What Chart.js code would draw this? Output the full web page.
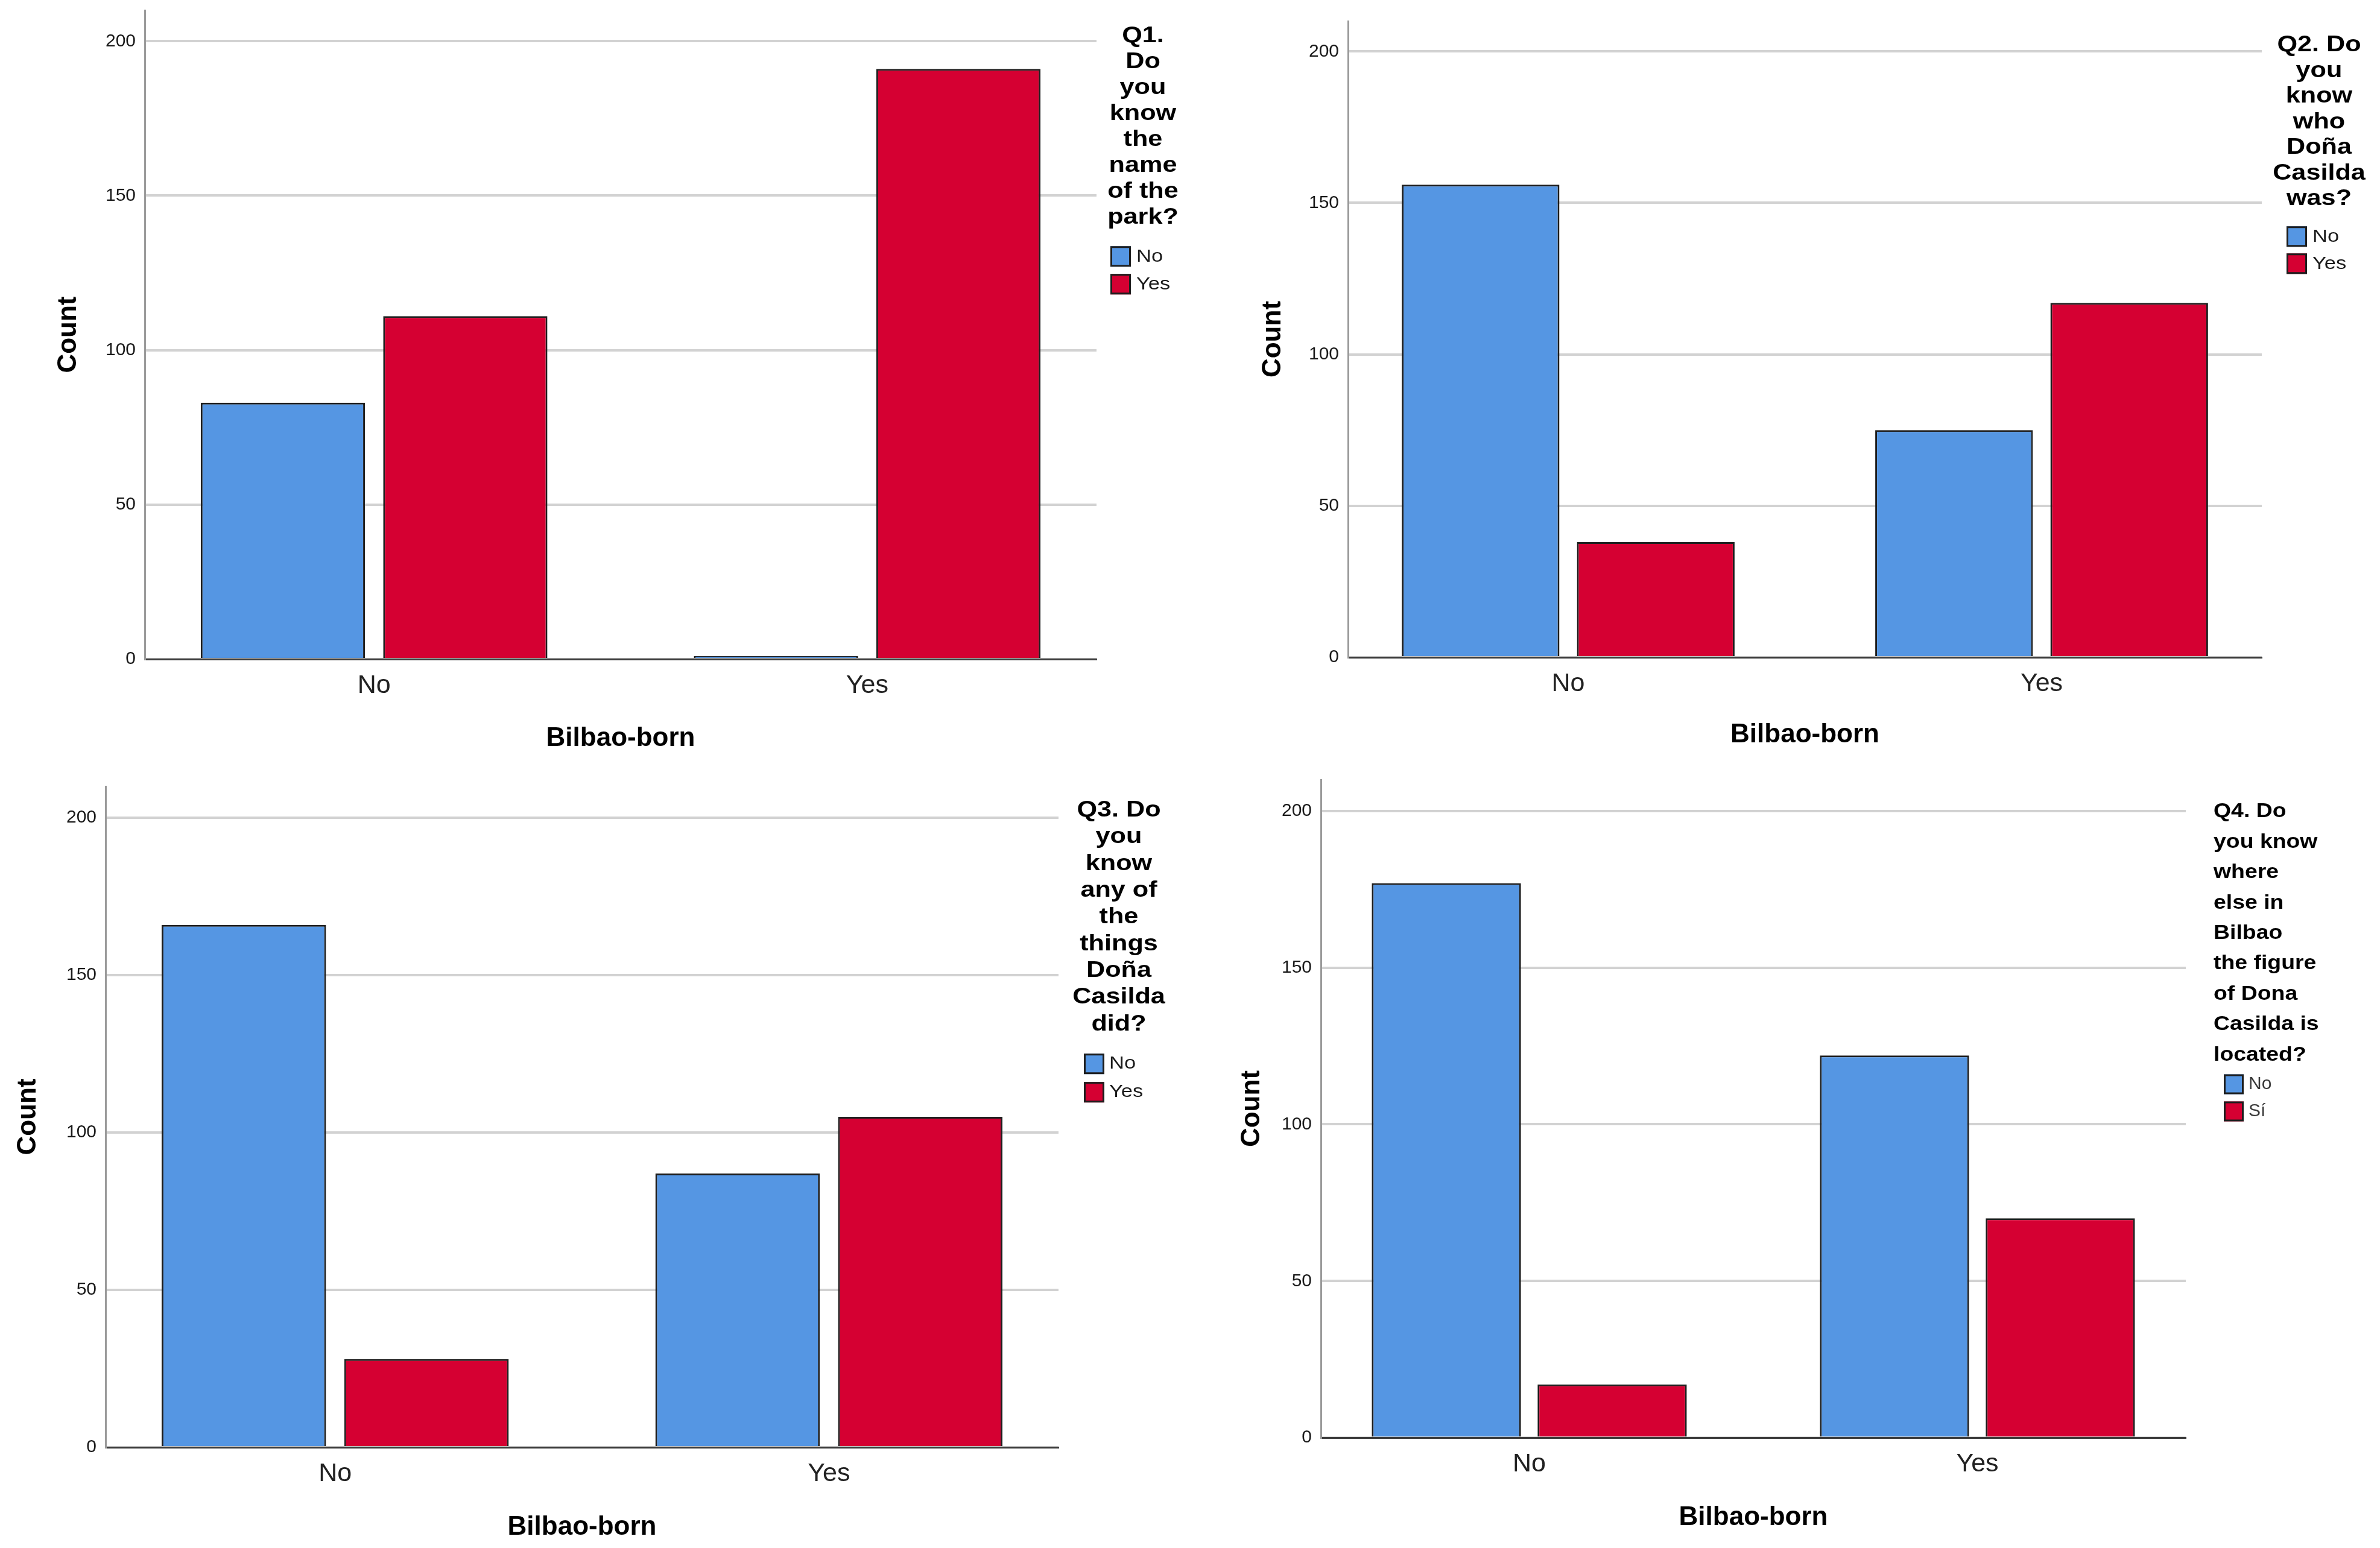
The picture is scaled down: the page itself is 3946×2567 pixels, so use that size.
<!DOCTYPE html>
<html>
<head>
<meta charset="utf-8">
<script src="https://cdn.jsdelivr.net/npm/chart.js@4.4.1/dist/chart.umd.min.js"></script>
<style>
  html, body { margin: 0; padding: 0; background: #ffffff; }
  body { position: relative; width: 3946px; height: 2567px; overflow: hidden; }
  canvas { position: absolute; }
</style>
</head>
<body>
<canvas id="c1"></canvas>
<canvas id="c2"></canvas>
<canvas id="c3"></canvas>
<canvas id="c4"></canvas>
<script>
// ---------------- DATA ----------------
const bilbaoBorn = ['No', 'Yes'];          // x categories
const yTicks = [0, 50, 100, 150, 200];     // y tick labels
const yMax = 210;

const q1Title = ['Q1.', 'Do', 'you', 'know', 'the', 'name', 'of the', 'park?'];
const q1Labels = ['No', 'Yes'];
const q1No  = [83, 1];
const q1Yes = [111, 191];

const q2Title = ['Q2. Do', 'you', 'know', 'who', 'Doña', 'Casilda', 'was?'];
const q2Labels = ['No', 'Yes'];
const q2No  = [156, 75];
const q2Yes = [38, 117];

const q3Title = ['Q3. Do', 'you', 'know', 'any of', 'the', 'things', 'Doña', 'Casilda', 'did?'];
const q3Labels = ['No', 'Yes'];
const q3No  = [166, 87];
const q3Yes = [28, 105];

const q4Title = ['Q4. Do', 'you know', 'where', 'else in', 'Bilbao', 'the figure', 'of Dona', 'Casilda is', 'located?'];
const q4Labels = ['No', 'Sí'];
const q4No = [177, 122];
const q4Si = [17, 70];

// ---------------- STYLE / LAYOUT ----------------
const FONT = '"Liberation Sans", Arial, Helvetica, sans-serif';
const BLUE = '#5596e3';
const RED = '#d50032';
const EDGE = '#1e1e1e';

const panels = [
  { id: 'c1', title: q1Title, labels: q1Labels, a: q1No, b: q1Yes,
    plot: { left: 240, right: 1818, top: 16.75, bottom: 1093 }, qRight: 1973,
    countOff: 126, xTitleOff: 132,
    legend: { align: 'center', x: 1895, y: 60, spacing: 43, size: 36, scaleX: 1.2,
              boxX: 1841, boxSize: 34, itemY: [425, 471], textX: 1884, itemSize: 30, itemScaleX: 1.15, itemColor: '#1a1a1a' } },
  { id: 'c2', title: q2Title, labels: q2Labels, a: q2No, b: q2Yes,
    plot: { left: 2235, right: 3750, top: 34.75, bottom: 1090 }, qRight: 3946,
    countOff: 124, xTitleOff: 129,
    legend: { align: 'center', x: 3845, y: 75, spacing: 42.5, size: 36, scaleX: 1.2,
              boxX: 3791, boxSize: 34, itemY: [392, 437], textX: 3834, itemSize: 30, itemScaleX: 1.15, itemColor: '#1a1a1a' } },
  { id: 'c3', title: q3Title, labels: q3Labels, a: q3No, b: q3Yes,
    plot: { left: 175, right: 1755, top: 1303.8, bottom: 2400 }, qRight: 1973,
    countOff: 128, xTitleOff: 133,
    legend: { align: 'center', x: 1855, y: 1344, spacing: 44.3, size: 36, scaleX: 1.2,
              boxX: 1797, boxSize: 34, itemY: [1764, 1811], textX: 1839, itemSize: 30, itemScaleX: 1.15, itemColor: '#1a1a1a' } },
  { id: 'c4', title: q4Title, labels: q4Labels, a: q4No, b: q4Si,
    plot: { left: 2190, right: 3624, top: 1293, bottom: 2384 }, qRight: 3946,
    countOff: 114, xTitleOff: 133,
    legend: { align: 'left', x: 3670, y: 1346, spacing: 50.4, size: 34, scaleX: 1.1,
              boxX: 3687, boxSize: 33, itemY: [1798, 1843], textX: 3728, itemSize: 30, itemScaleX: 1.0, itemColor: '#3a3a3a' } }
];

const Y_AXIS_W = 200;
const TOP_PAD = 40;
const X_AXIS_H = 180;
const CAT_MARGIN = 0.465;

const sideLegend = {
  id: 'sideLegend',
  afterDraw(chart, args, opts) {
    if (!opts || !opts.lines) return;
    const ctx = chart.ctx;
    const ox = opts.originX, oy = opts.originY;
    ctx.save();
    ctx.textBaseline = 'middle';
    ctx.textAlign = 'left';
    ctx.fillStyle = '#000000';
    ctx.font = 'bold ' + opts.size + 'px ' + FONT;
    opts.lines.forEach((line, i) => {
      const w = ctx.measureText(line).width * opts.scaleX;
      let x = opts.align === 'center' ? opts.x - w / 2 : opts.x;
      const y = opts.y + i * opts.spacing;
      ctx.save();
      ctx.translate(x - ox, y - oy);
      ctx.scale(opts.scaleX, 1);
      ctx.fillText(line, 0, 0);
      ctx.restore();
    });
    ctx.font = opts.itemSize + 'px ' + FONT;
    chart.data.datasets.forEach((ds, i) => {
      const s = opts.boxSize;
      const bx = opts.boxX - ox;
      const cy = opts.itemY[i] - oy;
      ctx.fillStyle = ds.backgroundColor;
      ctx.fillRect(bx, cy - s / 2, s, s);
      ctx.lineWidth = 3;
      ctx.strokeStyle = ds.borderColor;
      ctx.strokeRect(bx + 1.5, cy - s / 2 + 1.5, s - 3, s - 3);
      ctx.fillStyle = opts.itemColor;
      ctx.save();
      ctx.translate(opts.textX - ox, cy);
      ctx.scale(opts.itemScaleX, 1);
      ctx.fillText(ds.label, 0, 0);
      ctx.restore();
    });
    ctx.restore();
  }
};

panels.forEach(p => {
  const x0 = p.plot.left - Y_AXIS_W;
  const y0 = p.plot.top - TOP_PAD;
  const W = Math.round(p.qRight - x0);
  const H = Math.round(p.plot.bottom + X_AXIS_H - y0);
  const canvas = document.getElementById(p.id);
  canvas.width = W;
  canvas.height = H;
  canvas.style.left = x0 + 'px';
  canvas.style.top = y0 + 'px';
  canvas.style.width = W + 'px';
  canvas.style.height = H + 'px';

  const rightPad = W - (p.plot.right - x0);
  const tAxisLH = 44 * 1.2;

  new Chart(canvas, {
    type: 'bar',
    data: {
      datasets: [
        { label: p.labels[0], data: p.a.map((v, i) => ({ x: i, y: v })),
          backgroundColor: BLUE, borderColor: EDGE, borderWidth: 3 },
        { label: p.labels[1], data: p.b.map((v, i) => ({ x: i, y: v })),
          backgroundColor: RED, borderColor: EDGE, borderWidth: 3 }
      ]
    },
    options: {
      responsive: false,
      animation: false,
      devicePixelRatio: 1,
      layout: { padding: { top: TOP_PAD, right: rightPad, left: 0, bottom: 0 } },
      datasets: { bar: { categoryPercentage: 0.74, barPercentage: 0.90 } },
      plugins: {
        legend: { display: false },
        tooltip: { enabled: false },
        sideLegend: Object.assign({ lines: p.title, originX: x0, originY: y0 }, p.legend)
      },
      scales: {
        x: {
          type: 'linear',
          min: -CAT_MARGIN,
          max: 1 + CAT_MARGIN,
          offset: false,
          afterBuildTicks: s => { s.ticks = bilbaoBorn.map((c, i) => ({ value: i })); },
          afterFit: s => { s.height = X_AXIS_H; },
          grid: { display: false, drawTicks: false, offset: false },
          border: { display: true, color: '#3c3c3c', width: 3 },
          ticks: {
            callback: v => bilbaoBorn[v],
            font: { family: FONT, size: 43 },
            color: '#222222',
            padding: 18,
            maxRotation: 0,
            autoSkip: false
          },
          title: {
            display: true,
            text: 'Bilbao-born',
            font: { family: FONT, size: 44, weight: 'bold' },
            color: '#000000',
            padding: { top: 0, bottom: X_AXIS_H - p.xTitleOff - tAxisLH / 2 }
          }
        },
        y: {
          min: 0,
          max: yMax,
          afterBuildTicks: s => { s.ticks = yTicks.map(v => ({ value: v })); },
          afterFit: s => { s.width = Y_AXIS_W; },
          grid: { color: '#d2d2d2', lineWidth: 4, drawTicks: false },
          border: { display: true, color: '#9a9a9a', width: 3 },
          ticks: {
            font: { family: FONT, size: 30 },
            color: '#1a1a1a',
            padding: 15
          },
          title: {
            display: true,
            text: 'Count',
            font: { family: FONT, size: 44, weight: 'bold' },
            color: '#000000',
            padding: { top: Y_AXIS_W - p.countOff - tAxisLH / 2, bottom: 0 }
          }
        }
      }
    },
    plugins: [sideLegend]
  });
});
</script>
</body>
</html>
